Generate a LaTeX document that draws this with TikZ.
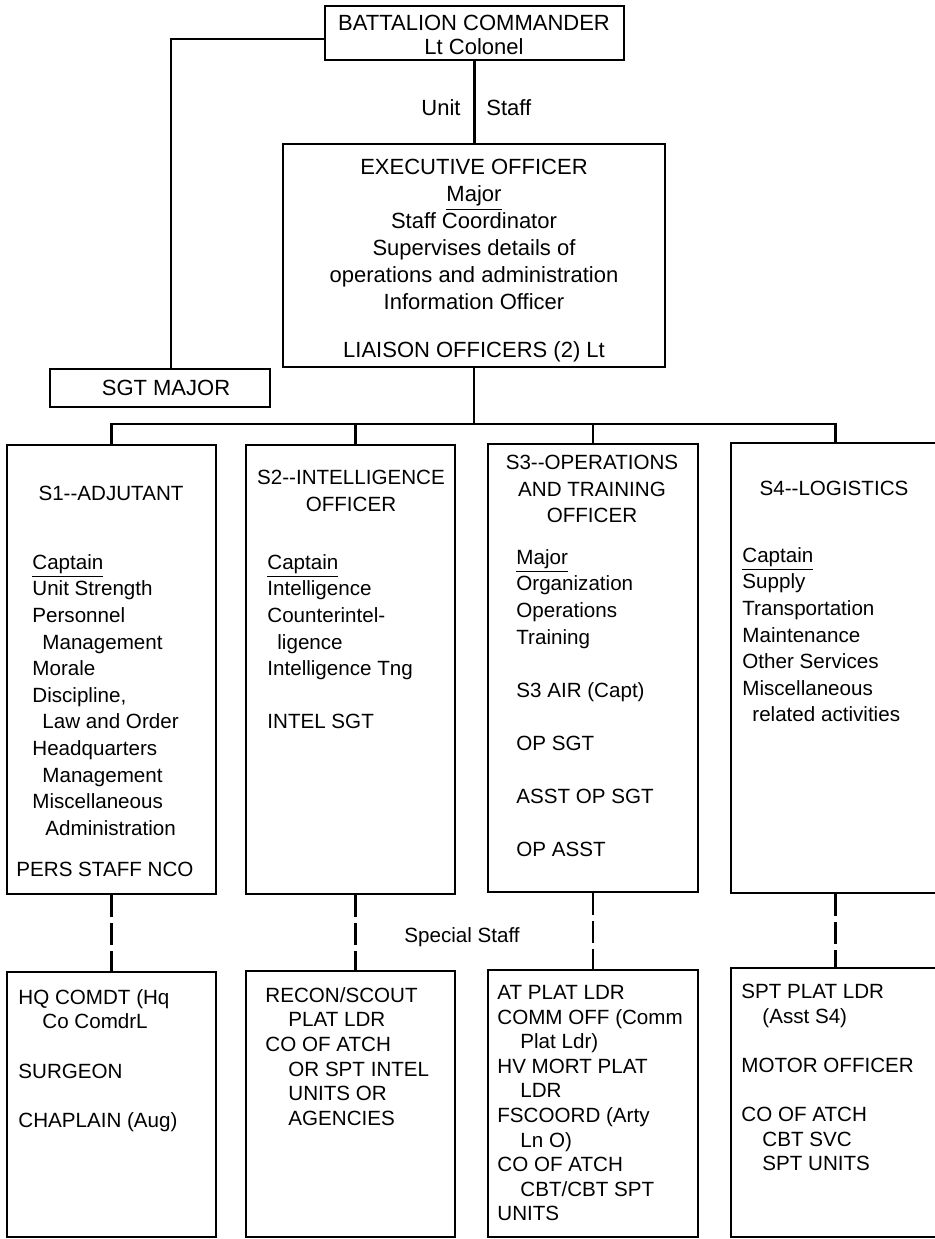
\documentclass[tikz,border=0pt]{standalone}
\usepackage{fontspec}
\setmainfont{Liberation Sans}
\usetikzlibrary{fit}
\newcommand\chartfont{\fontsize{10.3}{13.3}\selectfont}
\newcommand\lowfont{\fontsize{10.3}{12.3}\selectfont}
\newcommand\execfont{\fontsize{11}{13.5}\selectfont}
\newcommand\topfont{\fontsize{11}{12}\selectfont}

\begin{document}
\begin{tikzpicture}[x=0.5pt,y=-0.5pt,
  box/.style={draw,line width=1.1pt,inner sep=0pt},
  wire/.style={line width=1.1pt},
  special/.style={wire,dash pattern=on 11pt off 3pt},
  duty/.style={anchor=north west,align=left,inner sep=0pt,font=\chartfont},
  head/.style={align=center,inner sep=0pt,font=\chartfont}]
  % Frame
  \useasboundingbox (0,0) rectangle (935,1239);
  \clip (0,0) rectangle (935,1239);
  \def\ind{5pt}
  \def\lind{11.5pt}
  %
  % Command group
  \node[box,fit={(325,6) (624,60)}] (cdr) {};
  \node[box,fit={(283,144) (665,367)}] (xo) {};
  \node[box,fit={(50,369) (270,407)}] (sgm) {};
  \node[head,font=\topfont,anchor=north] (cdrtext) at (474,15)
    {BATTALION COMMANDER\\ Lt Colonel};
  \node[head,font=\execfont,anchor=north] (xotext) at (474,159)
    {EXECUTIVE OFFICER\\ \underline{Major}\\ Staff Coordinator\\
     Supervises details of\\ operations and administration\\
     Information Officer\\[10.5pt] LIAISON OFFICERS (2) Lt};
  \node[head,font=\topfont] (sgmtext) at (166,388) {SGT MAJOR};
  \node[head,font=\topfont,anchor=east] (unit) at (461,108) {Unit};
  \node[head,font=\topfont,anchor=west] (staff) at (486,108) {Staff};
  %
  % Staff sections
  \node[box,fit={(7,445) (216,894)}] (s1) {};
  \node[box,fit={(246,445) (455,894)}] (s2) {};
  \node[box,fit={(488,444) (698,892)}] (s3) {};
  \node[box,fit={(731,443) (940,893)}] (s4) {};
  %
  \node[head] (s1head) at (111,493) {S1-{}-ADJUTANT};
  \node[duty] (s1text) at (32,554)
    {\underline{Captain}\\ Unit Strength\\ Personnel\\ \hspace*{\ind}Management\\
     Morale\\ Discipline,\\ \hspace*{\ind}Law and Order\\ Headquarters\\
     \hspace*{\ind}Management\\ Miscellaneous\\ \hspace*{6.5pt}Administration};
  \node[duty] (s1nco) at (16,862) {PERS STAFF NCO};
  %
  \node[head,anchor=north] (s2head) at (351,470) {S2-{}-INTELLIGENCE\\ OFFICER};
  \node[duty] (s2text) at (267,554)
    {\underline{Captain}\\ Intelligence\\ Counterintel-\\ \hspace*{\ind}ligence\\
     Intelligence Tng\\[13.3pt] INTEL SGT};
  %
  \node[head,anchor=north] (s3head) at (592,455)
    {S3-{}-OPERATIONS\\ AND TRAINING\\ OFFICER};
  \node[duty] (s3text) at (516,549)
    {\underline{Major}\\ Organization\\ Operations\\ Training\\[13.3pt]
     S3 AIR (Capt)\\[13.3pt] OP SGT\\[13.3pt] ASST OP SGT\\[13.3pt] OP ASST};
  %
  \node[head] (s4head) at (834,488) {S4-{}-LOGISTICS};
  \node[duty] (s4text) at (742,547)
    {\underline{Captain}\\ Supply\\ Transportation\\ Maintenance\\
     Other Services\\ Miscellaneous\\ \hspace*{\ind}related activities};
  %
  % Special staff
  \node[box,fit={(7,972) (216,1237)}] (hq) {};
  \node[box,fit={(246,971) (455,1237)}] (rc) {};
  \node[box,fit={(488,970) (698,1237)}] (at) {};
  \node[box,fit={(731,968) (940,1237)}] (spt) {};
  %
  \node[duty,font=\lowfont] (hqtext) at (18,989)
    {HQ COMDT (Hq\\ \hspace*{12pt}Co ComdrL\\[12.3pt] SURGEON\\[12.3pt]
     CHAPLAIN (Aug)};
  \node[duty,font=\lowfont] (rctext) at (265,987)
    {RECON/SCOUT\\ \hspace*{\lind}PLAT LDR\\ CO OF ATCH\\
     \hspace*{\lind}OR SPT INTEL\\ \hspace*{\lind}UNITS OR\\ \hspace*{\lind}AGENCIES};
  \node[duty,font=\lowfont] (attext) at (497,985)
    {AT PLAT LDR\\ COMM OFF (Comm\\ \hspace*{\lind}Plat Ldr)\\ HV MORT PLAT\\
     \hspace*{\lind}LDR\\ FSCOORD (Arty\\ \hspace*{\lind}Ln O)\\ CO OF ATCH\\
     \hspace*{\lind}CBT/CBT SPT\\ UNITS};
  \node[duty,font=\lowfont] (spttext) at (741,984)
    {SPT PLAT LDR\\ \hspace*{10.5pt}(Asst S4)\\[12.3pt] MOTOR OFFICER\\[12.3pt]
     CO OF ATCH\\ \hspace*{10.5pt}CBT SVC\\ \hspace*{10.5pt}SPT UNITS};
  \node[head] (spec) at (462,937) {Special Staff};
  %
  % Lines of authority
  \coordinate (bus) at (472,424);
  \draw[wire] (cdr.south) -- (cdr.south |- xo.north);
  \draw[wire] ([yshift=-3pt]cdr.west) -| ([xshift=5.5pt]sgm.north);
  \draw[wire] (xo.south) -- (xo.south |- bus);
  \draw[wire] (s1.north) -- (s1.north |- bus) -- (s4.north |- bus) -- (s4.north);
  \draw[wire] ([xshift=2.5pt]s2.north) -- ([xshift=2.5pt]s2.north |- bus);
  \draw[wire] (s3.north) -- (s3.north |- bus);
  %
  % Special staff lines
  \draw[special] (s1.south) -- (hq.north);
  \draw[special] ([xshift=2.5pt]s2.south) -- ([xshift=2.5pt]rc.north);
  \draw[special] (s3.south) -- (at.north);
  \draw[special] (s4.south) -- (spt.north);
\end{tikzpicture}
\end{document}
